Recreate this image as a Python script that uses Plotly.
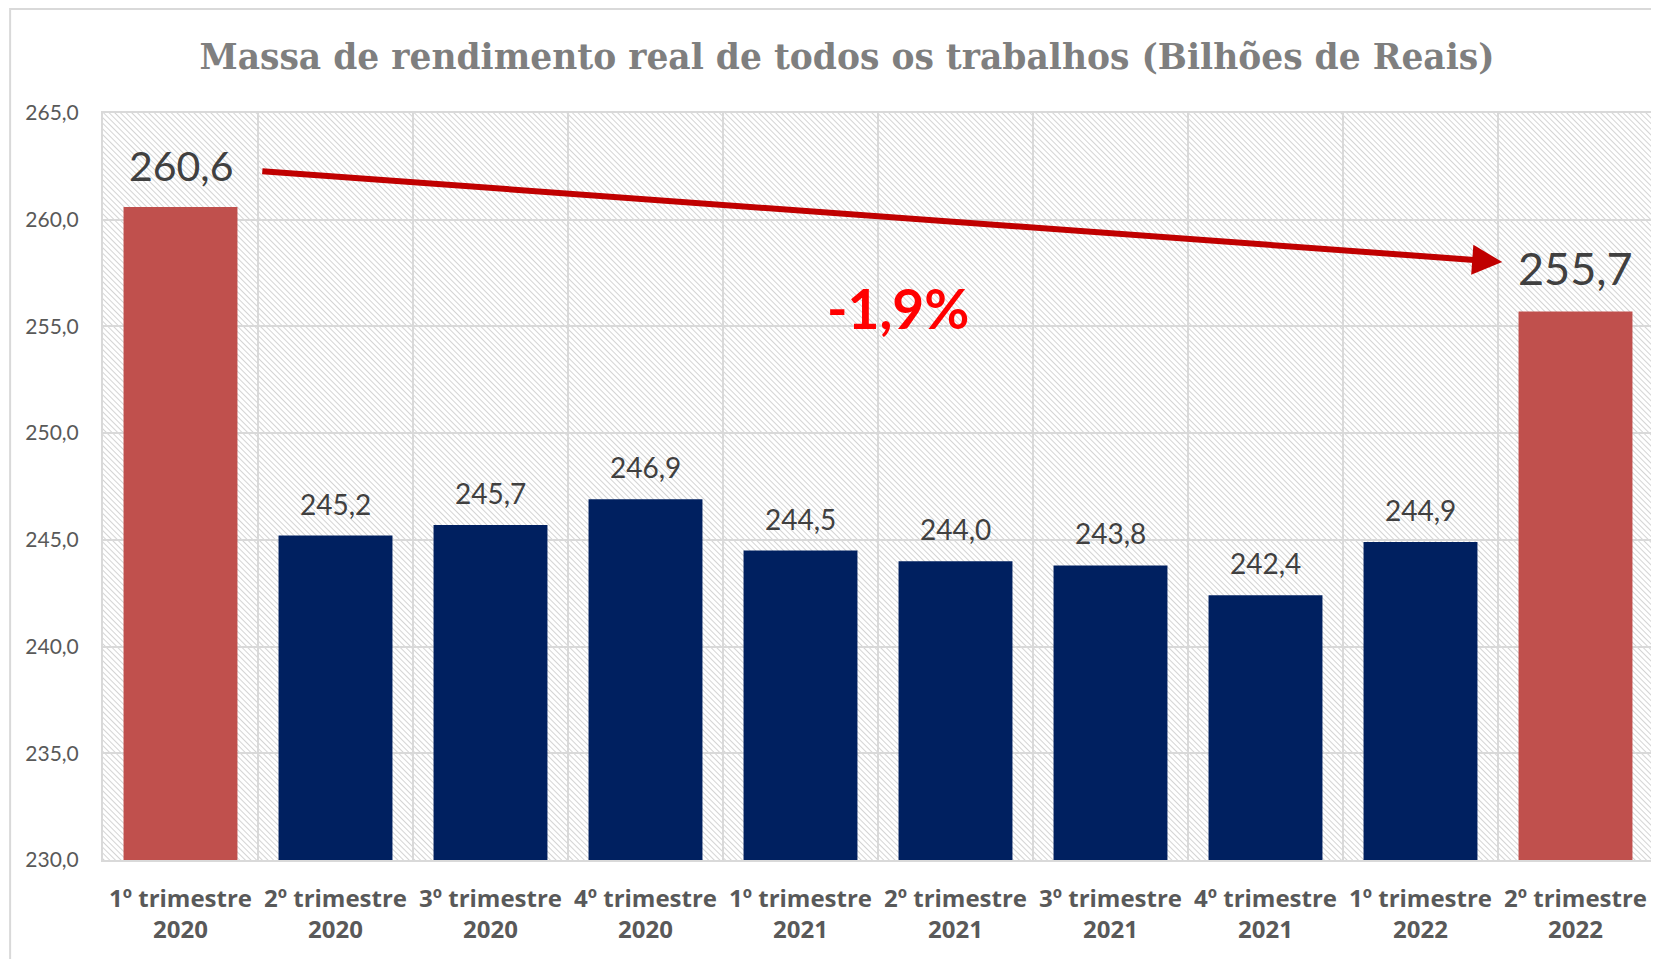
import base64
import plotly.graph_objects as go

# ---- data ----
quarters = ["1º trimestre", "2º trimestre", "3º trimestre", "4º trimestre",
            "1º trimestre", "2º trimestre", "3º trimestre", "4º trimestre",
            "1º trimestre", "2º trimestre"]
years = ["2020", "2020", "2020", "2020", "2021", "2021", "2021", "2021", "2022", "2022"]
values = [260.6, 245.2, 245.7, 246.9, 244.5, 244.0, 243.8, 242.4, 244.9, 255.7]
highlight = [True, False, False, False, False, False, False, False, False, True]
variation_text = "-1,9%"
title_text = "Massa de rendimento real de todos os trabalhos (Bilhões de Reais)"
y_min, y_max, y_step = 230, 265, 5

categories = [f"{q}<br>{y}" for q, y in zip(quarters, years)]

W, H = 1651, 951
ML, MR, MT, MB = 95, 4, 105, 99
PW, PH = W - ML - MR, H - MT - MB

RED, NAVY = "#c0504d", "#002060"
colors = [RED if h else NAVY for h in highlight]

def fmt(v):
    return f"{v:.1f}".replace(".", ",")

fig = go.Figure()
fig.add_trace(go.Bar(
    x=categories, y=values, marker_color=colors, marker_line_width=0,
    hoverinfo="x+y",
))

# data labels
annotations = []
for i, (c, v, h) in enumerate(zip(categories, values, highlight)):
    if h:
        size = 41 if i == 0 else 45
        shift = 41 if i == 0 else 43
    else:
        size, shift = 28, 32
    annotations.append(dict(
        x=c, y=v, xref="x", yref="y", text=fmt(v), showarrow=False,
        yanchor="middle", yshift=shift,
        font=dict(family="Lato", size=size, color="#404040"),
    ))

# trend arrow between highlighted labels
annotations.append(dict(
    x=8.527, y=258.02, ax=0.518, ay=262.28, xref="x", yref="y",
    axref="x", ayref="y", text="", showarrow=True, arrowhead=2,
    arrowsize=1.0, arrowwidth=6, arrowcolor="#c00000", standoff=0, startstandoff=0,
))
annotations.append(dict(
    x=4.63, y=255.86, xref="x", yref="y", text=variation_text, showarrow=False,
    font=dict(family="Lato", size=55, color="#ff0000", weight="bold"),
))

# hatch background
svg = (f"<svg xmlns='http://www.w3.org/2000/svg' width='{PW}' height='{PH}'>"
       "<defs><pattern id='p' width='4' height='4' patternUnits='userSpaceOnUse' "
       "patternTransform='rotate(-45)'><line x1='0' y1='0' x2='0' y2='4' "
       "stroke='#bdbdbd' stroke-width='1.3'/></pattern></defs>"
       "<rect width='100%' height='100%' fill='url(#p)'/></svg>")
src = "data:image/svg+xml;base64," + base64.b64encode(svg.encode()).decode()

fig.update_layout(
    width=W, height=H,
    margin=dict(l=ML, r=MR, t=MT, b=MB),
    paper_bgcolor="white", plot_bgcolor="white",
    separators=",.",
    bargap=0.265,
    showlegend=False,
    title=dict(text=f"<b>{title_text}</b>", x=839 / W, xanchor="center",
               y=1 - 49 / H, yanchor="middle",
               font=dict(family="DejaVu Serif", size=34.5, color="#7f7f7f")),
    annotations=annotations,
    images=[dict(source=src, xref="paper", yref="paper", x=0, y=1,
                 sizex=1, sizey=1, xanchor="left", yanchor="top",
                 sizing="stretch", layer="below")],
    shapes=[dict(type="rect", xref="paper", yref="paper",
                 x0=(2 - ML) / PW, x1=(W + 5 - ML) / PW,
                 y0=-(MB + 5) / PH, y1=1 + (MT - 1) / PH,
                 line=dict(color="#d9d9d9", width=2), layer="below")],
)
fig.update_xaxes(
    type="category", range=[-0.5, 9.5], tickson="boundaries",
    showgrid=True, gridcolor="#d9d9d9", gridwidth=2,
    showline=True, linecolor="#d9d9d9", linewidth=2, mirror=True,
    ticks="", ticklabelstandoff=16, automargin=False,
    tickfont=dict(family="Open Sans", size=24, color="#595959", weight="bold"),
)
fig.update_yaxes(
    range=[y_min, y_max], dtick=y_step, tick0=y_min, tickformat=".1f",
    showgrid=True, gridcolor="#d9d9d9", gridwidth=2,
    showline=True, linecolor="#d9d9d9", linewidth=2, mirror=True,
    ticks="outside", ticklen=18, tickcolor="rgba(0,0,0,0)",
    tickfont=dict(family="Lato", size=21, color="#595959"),
    zeroline=False,
)

fig.write_html("out.html")
